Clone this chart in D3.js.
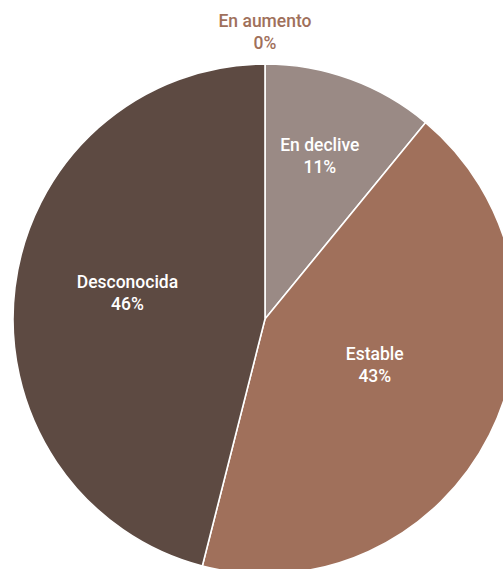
<!DOCTYPE html>
<html><head><meta charset="utf-8">
<script src="https://cdn.jsdelivr.net/npm/d3@7"></script>
<style>html,body{margin:0;padding:0;background:#fff;overflow:hidden}</style>
</head><body>
<svg id="c" width="503" height="569"></svg>
<script>
const categories = ["En aumento", "En declive", "Estable", "Desconocida"];
const values = [0, 11, 43, 46];
const colors = ["#a0705b", "#9a8a85", "#a0705b", "#5d4a42"];

const svg = d3.select("#c");
const cx = 265, cy = 319, R = 252, ry = 255;
const g = svg.append("g").attr("transform", `translate(${cx},${cy})`);
const pg = g.append("g").attr("transform", `scale(1,${ry / R})`);
const pie = d3.pie().sort(null).value(d => d.v);
const data = categories.map((c, i) => ({c, v: values[i], col: colors[i]}));
const arcs = pie(data);
const arc = d3.arc().innerRadius(0).outerRadius(R);
pg.selectAll("path").data(arcs).enter().append("path")
  .attr("d", arc).attr("fill", d => d.data.col)
  .attr("stroke", "#fff").attr("stroke-width", 1.6)
  .attr("vector-effect", "non-scaling-stroke");

const labelR = [287, 172, 119, 140];
const angOff = [0, -0.021, -0.075, 0.061];
const font = "Roboto, 'Open Sans', sans-serif";
arcs.forEach((d, i) => {
  const a = (d.startAngle + d.endAngle) / 2 + angOff[i];
  const x = Math.sin(a) * labelR[i], y = -Math.cos(a) * labelR[i];
  const t = g.append("text").attr("text-anchor", "middle")
    .attr("font-family", font).attr("font-weight", 500).attr("font-size", 17.5)
    .attr("fill", d.data.v === 0 ? colors[0] : "#fff");
  t.append("tspan").attr("x", x).attr("y", y - 5).text(d.data.c);
  t.append("tspan").attr("x", x).attr("y", y + 17).text(d.data.v + "%");
});
</script>
</body></html>
